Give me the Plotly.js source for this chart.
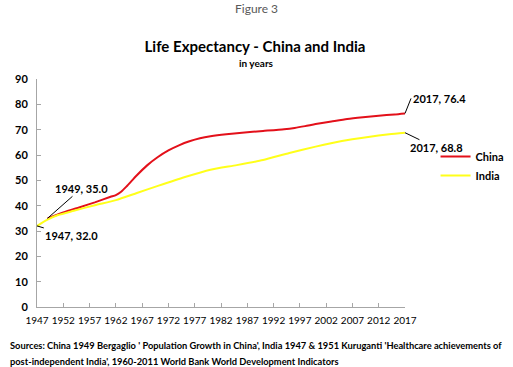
<!DOCTYPE html>
<html>
<head>
<meta charset="utf-8">
<script src="https://cdn.plot.ly/plotly-3.0.1.min.js"></script>
<style>html,body{margin:0;padding:0;background:#fff;}#chart{width:513px;height:367px;}</style>
</head>
<body>
<div id="chart"></div>
<script>
// China life expectancy (years)
const chinaYears  = [1949, 1952, 1955, 1958, 1961, 1962, 1963, 1964, 1966, 1968, 1970, 1972, 1974, 1976, 1978, 1980, 1983, 1986, 1990, 1994, 1996, 1998, 2000, 2003, 2006, 2009, 2012, 2015, 2017];
const chinaValues = [35.0, 37.3, 39.3, 41.3, 43.5, 44.2, 45.5, 47.5, 52.0, 56.0, 59.2, 61.8, 63.8, 65.4, 66.6, 67.4, 68.2, 68.8, 69.5, 70.2, 70.7, 71.4, 72.2, 73.2, 74.2, 74.9, 75.5, 76.0, 76.4];
// India life expectancy
const indiaYears  = [1947, 1949, 1951, 1954, 1958, 1962, 1966, 1970, 1975, 1980, 1985, 1990, 1995, 2000, 2005, 2010, 2014, 2017];
const indiaValues = [32.0, 34.5, 36.3, 38.0, 40.2, 42.2, 45.0, 47.8, 51.2, 54.2, 56.0, 58.0, 60.8, 63.3, 65.5, 67.1, 68.2, 68.8];
// axis ticks
const xTicks = [1947, 1952, 1957, 1962, 1967, 1972, 1977, 1982, 1987, 1992, 1997, 2002, 2007, 2012, 2017];
const yTicks = [0, 10, 20, 30, 40, 50, 60, 70, 80, 90];

const FONT = 'Lato, "Open Sans", sans-serif';

function lbl(xs, ys, i) {
  return xs[i] + ', ' + ys[i].toFixed(1);
}
const cLast = chinaYears.length - 1, iLast = indiaYears.length - 1;

const traces = [
  {x: chinaYears, y: chinaValues, name: 'China', type: 'scatter', mode: 'lines',
   line: {color: '#E3101A', width: 2, shape: 'spline', smoothing: 0.6}},
  {x: indiaYears, y: indiaValues, name: 'India', type: 'scatter', mode: 'lines',
   line: {color: '#FFFF1A', width: 2, shape: 'spline', smoothing: 0.6}}
];

const annFont = {family: FONT, size: 11, color: '#000', weight: 'bold'};
const srcFont = {family: FONT, size: 9.3, color: '#000', weight: 'bold'};
const layout = {
  width: 513, height: 367,
  margin: {l: 37, r: 108, t: 79, b: 60, autoexpand: false},
  paper_bgcolor: '#fff', plot_bgcolor: '#fff',
  font: {family: FONT, color: '#000'},
  title: {text: '<b>Life Expectancy - China and India</b>', font: {family: FONT, size: 15, color: '#000'},
          x: 255/513, xanchor: 'center', y: 1 - 47/367, yanchor: 'middle', xref: 'container'},
  showlegend: true,
  legend: {x: 1.083, y: 0.724, xanchor: 'left', yanchor: 'top', font: {family: FONT, size: 11, color: '#000', weight: 'bold'},
           bgcolor: 'rgba(0,0,0,0)', tracegroupgap: 0, itemwidth: 30},
  xaxis: {type: 'linear', range: [1947, 2017], tickvals: xTicks, ticktext: xTicks.map(String), tickangle: 0,
          showgrid: false, zeroline: false, showline: true, linecolor: '#a6a6a6', linewidth: 1,
          ticks: 'inside', ticklen: 4, tickcolor: '#a6a6a6',
          tickfont: {family: FONT, size: 10, color: '#000'}, ticklabelstandoff: 4},
  yaxis: {range: [0, 90], tickvals: yTicks, showgrid: false, zeroline: false, showline: true,
          linecolor: '#a6a6a6', linewidth: 1, ticks: 'inside', ticklen: 4, tickcolor: '#a6a6a6',
          tickfont: {family: FONT, size: 11, color: '#000', weight: 'bold'}, ticklabelstandoff: 6},
  annotations: [
    {xref: 'paper', yref: 'paper', x: (256-37)/368, y: (307-9)/228, text: 'Figure 3', showarrow: false,
     font: {family: FONT, size: 12, color: '#595959'}, xanchor: 'center', yanchor: 'middle'},
    {xref: 'paper', yref: 'paper', x: (256-37)/368, y: (307-63)/228, text: '<b>in years</b>', showarrow: false,
     font: {family: FONT, size: 10, color: '#000'}, xanchor: 'center', yanchor: 'middle'},
    {x: chinaYears[cLast], y: chinaValues[cLast], text: lbl(chinaYears, chinaValues, cLast), showarrow: true,
     arrowhead: 0, arrowwidth: 1, arrowcolor: '#000', ax: 6, ay: -15, xanchor: 'left', yanchor: 'middle',
     font: annFont, standoff: 0},
    {x: indiaYears[iLast], y: indiaValues[iLast], text: lbl(indiaYears, indiaValues, iLast), showarrow: true,
     arrowhead: 0, arrowwidth: 1, arrowcolor: '#000', ax: 31, ay: 15, xanchor: 'center', yanchor: 'middle',
     font: annFont},
    {x: chinaYears[0], y: chinaValues[0], text: lbl(chinaYears, chinaValues, 0), showarrow: true,
     arrowhead: 0, arrowwidth: 1, arrowcolor: '#000', ax: 34, ay: -30, xanchor: 'center', yanchor: 'middle',
     font: annFont},
    {x: indiaYears[0], y: indiaValues[0], text: lbl(indiaYears, indiaValues, 0), showarrow: true,
     arrowhead: 0, arrowwidth: 1, arrowcolor: '#000', ax: 34, ay: 10, xanchor: 'center', yanchor: 'middle',
     font: annFont},
    {xref: 'paper', yref: 'paper', x: (8-37)/368, y: (307-345)/228, xanchor: 'left', yanchor: 'middle', align: 'left',
     showarrow: false, font: srcFont,
     text: "Sources: China 1949 Bergaglio ' Population Growth in China', India 1947 &amp; 1951 Kuruganti 'Healthcare achievements of"},
    {xref: 'paper', yref: 'paper', x: (8-37)/368, y: (307-361)/228, xanchor: 'left', yanchor: 'middle', align: 'left',
     showarrow: false, font: srcFont,
     text: "post-independent India', 1960-2011 World Bank World Development Indicators"}
  ]
};

Plotly.newPlot('chart', traces, layout, {staticPlot: true, displayModeBar: false});
</script>
</body>
</html>
